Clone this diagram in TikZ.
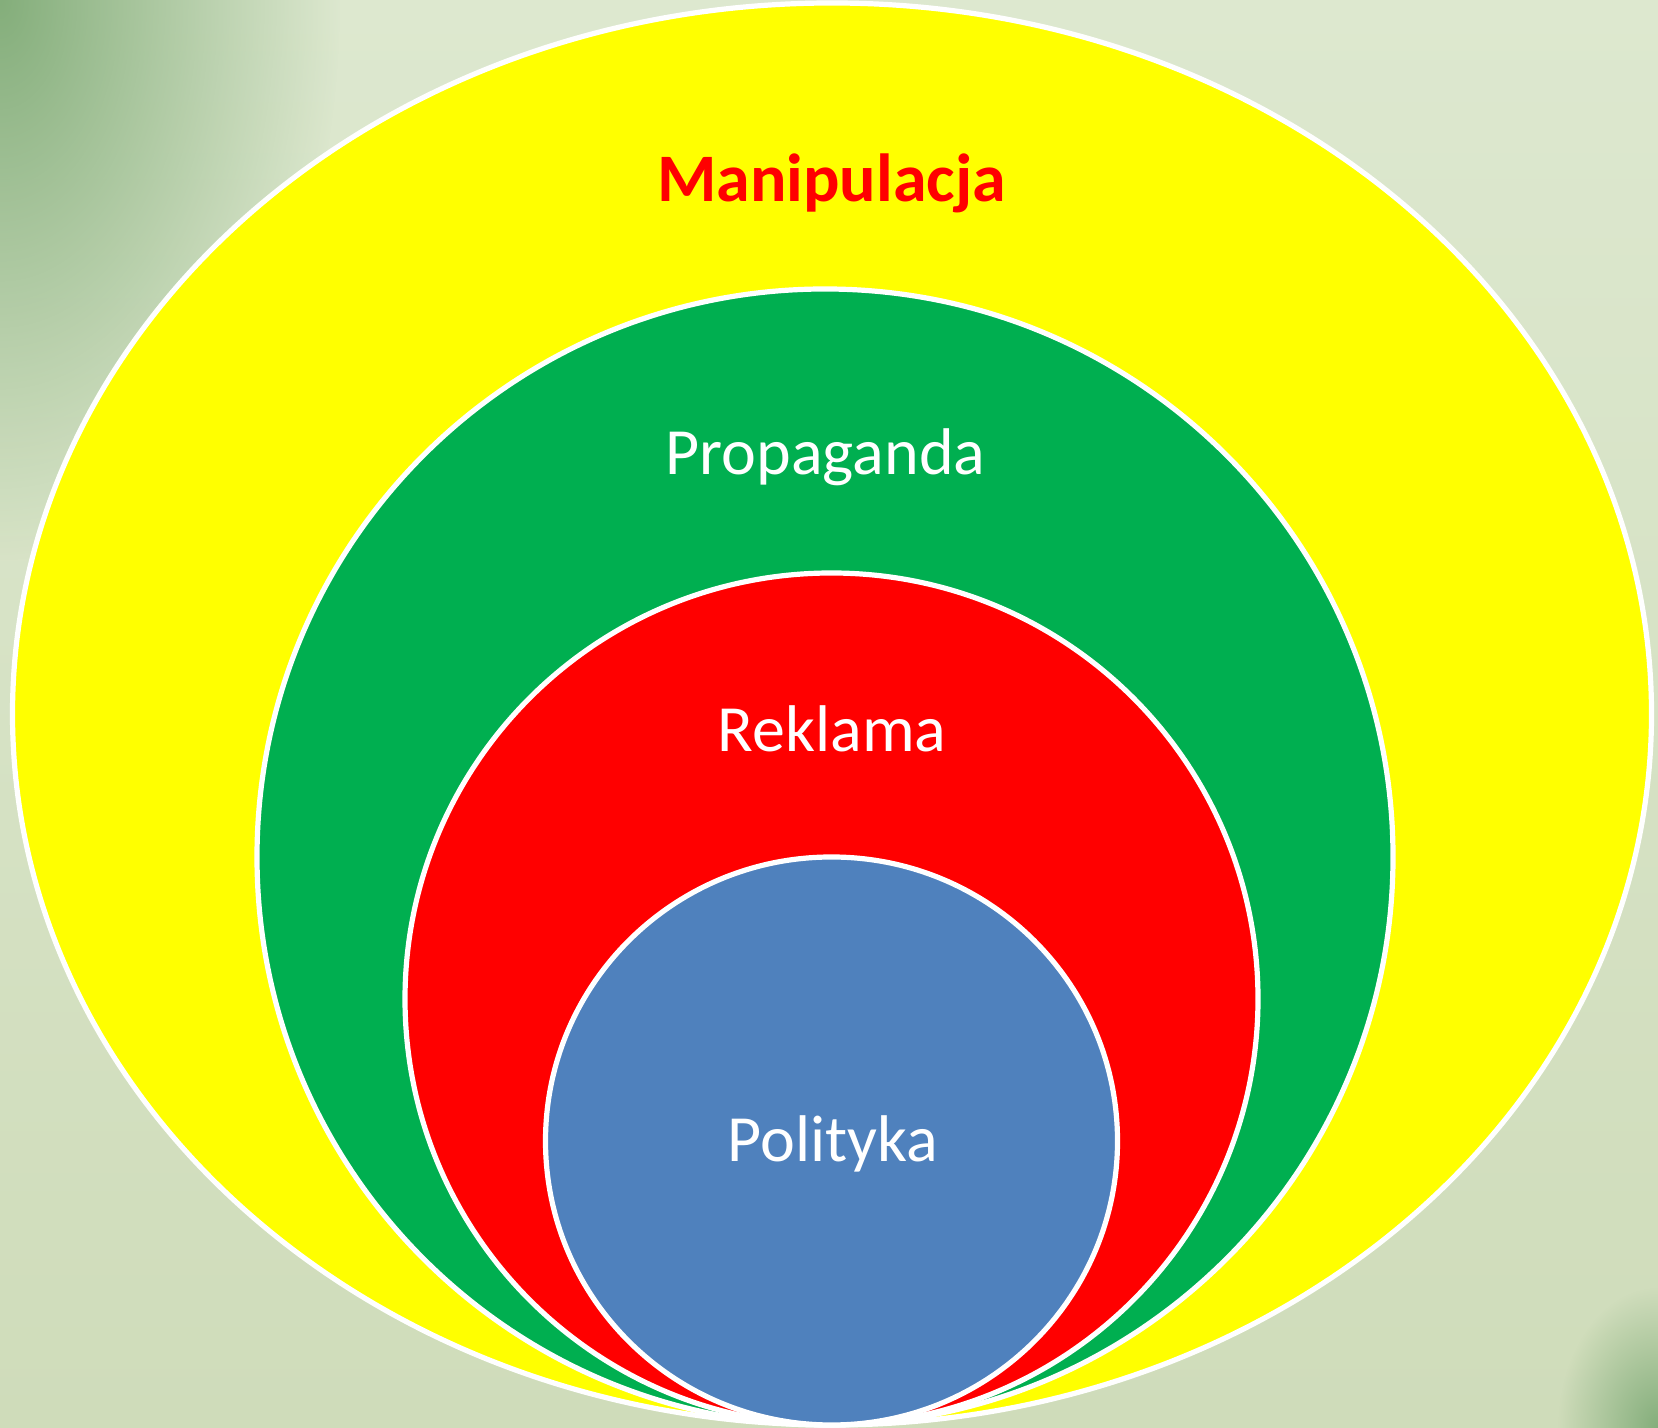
\documentclass[tikz,border=0pt]{standalone}
\usepackage{fontspec}
\setmainfont{Carlito}
\usetikzlibrary{fadings}
\definecolor{bgtop}{HTML}{DDE8CF}
\definecolor{bgbot}{HTML}{CFDCBA}
\definecolor{leaf}{HTML}{84AE7B}
\definecolor{setyellow}{HTML}{FFFF00}
\definecolor{setgreen}{HTML}{00AF50}
\definecolor{setred}{HTML}{FF0000}
\definecolor{setblue}{HTML}{4F81BD}
\tikzfading[name=cornerglow,inner color=transparent!0,outer color=transparent!100]
\tikzset{
  setring/.style={draw=white,line width=2.6pt},
  setlabel/.style={text=white,anchor=base,inner sep=0pt,
    font=\fontsize{33}{38}\selectfont},
  toplabel/.style={text=setred,anchor=base,inner sep=0pt,
    font=\bfseries\fontsize{34}{40}\selectfont}
}

\begin{document}
\begin{tikzpicture}[x=0.5pt,y=0.5pt]
  \useasboundingbox (0,0) rectangle (1658,1428);
  % backdrop with darker corners
  \begin{scope}
    \clip (0,0) rectangle (1658,1428);
    \shade[top color=bgtop,bottom color=bgbot] (0,0) rectangle (1658,1428);
    \fill[leaf,path fading=cornerglow] (0,1428) ellipse [x radius=340,y radius=560];
    \fill[leaf,path fading=cornerglow] (1658,0) ellipse [x radius=100,y radius=140];
  \end{scope}
  % nested sets, all touching at the bottom
  \filldraw[setring,fill=setyellow] (832,714) ellipse [x radius=819.5,y radius=711];
  \filldraw[setring,fill=setgreen] (825,571) ellipse [x radius=568,y radius=568];
  \filldraw[setring,fill=setred] (831.5,429) ellipse [x radius=426.5,y radius=426];
  \filldraw[setring,fill=setblue] (831.5,287) ellipse [x radius=286,y radius=284];
  % labels
  \node[toplabel] (manip) at (831.5,1226) {Manipulacja};
  \node[setlabel] (propag) at (825.5,953) {Propaganda};
  \node[setlabel] (reklama) at (832,676) {Reklama};
  \node[setlabel] (polit) at (833,266) {Polityka};
\end{tikzpicture}
\end{document}
